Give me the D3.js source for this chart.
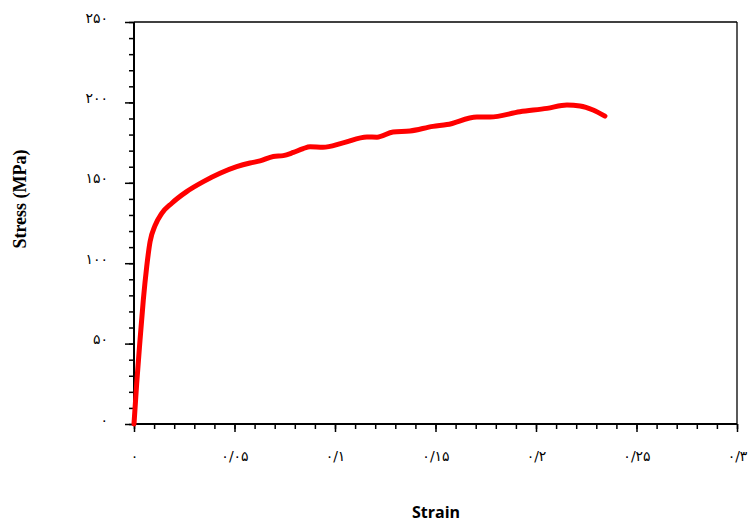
<!DOCTYPE html>
<html>
<head>
<meta charset="utf-8">
<script src="https://cdn.jsdelivr.net/npm/d3@7"></script>
<style>
  body { margin: 0; background: #fff; }
  svg { display: block; }
</style>
</head>
<body>
<svg width="749" height="523"></svg>
<script>
(function () {

	// stress-strain curve
	var strain = [0, 0.00134, 0.0030, 0.00463, 0.00632, 0.0080, 0.01045, 0.0138, 0.0188, 0.0262,
		0.0345, 0.0428, 0.0511, 0.0577, 0.0627, 0.0693, 0.0743, 0.0793, 0.0842, 0.0876,
		0.094, 0.104, 0.1159, 0.1209, 0.1289, 0.1373, 0.1488, 0.1557, 0.1706, 0.1771,
		0.192, 0.2055, 0.2154, 0.2219, 0.2284, 0.2343];
	var stress = [0, 25.3, 52.2, 77.1, 97.8, 113.4, 123.3, 131.0, 137.3, 144.5,
		150.7, 155.9, 160.0, 162.3, 163.6, 166.4, 166.9, 168.9, 171.3, 172.4,
		172.1, 174.8, 178.5, 178.4, 181.6, 182.2, 185.1, 186.2, 190.9, 190.9,
		194.2, 196.3, 198.4, 197.8, 195.3, 191.5];

	var xTicks = [0, 0.05, 0.1, 0.15, 0.2, 0.25, 0.3];
	var yTicks = [0, 50, 100, 150, 200, 250];

	var left = 134, right = 737, top = 22, bottom = 424;

	var persian = '۰۱۲۳۴۵۶۷۸۹';
	function fa(v) {
		return String(+v.toFixed(3)).replace(/[0-9]/g, function (c) {
			return persian[+c];
		}).replace('.', '/');
	}

	var x = d3.scaleLinear().domain([0, 0.3]).range([left, right]);
	var y = d3.scaleLinear().domain([0, 250]).range([bottom, top]);

	var svg = d3.select("svg");

	// minor ticks
	svg.append("g")
		.attr("transform", "translate(0," + bottom + ")")
		.call(d3.axisBottom(x).tickValues(d3.range(0, 31).map(function (d) { return d / 100; }))
			.tickSize(5).tickSizeOuter(0).tickFormat(""))
		.call(function (g) { g.select(".domain").remove(); })
		.selectAll("line").attr("stroke", "#000").attr("stroke-width", 1.5);

	svg.append("g")
		.attr("transform", "translate(" + left + ",0)")
		.call(d3.axisLeft(y).tickValues(d3.range(0, 26).map(function (d) { return d * 10; }))
			.tickSize(5).tickSizeOuter(0).tickFormat(""))
		.call(function (g) { g.select(".domain").remove(); })
		.selectAll("line").attr("stroke", "#000").attr("stroke-width", 1.5);

	// major ticks with labels
	var xAxis = svg.append("g")
		.attr("transform", "translate(0," + bottom + ")")
		.call(d3.axisBottom(x).tickValues(xTicks).tickSize(8).tickSizeOuter(0)
			.tickPadding(19).tickFormat(fa));
	xAxis.select(".domain").remove();
	xAxis.selectAll("line").attr("stroke", "#000").attr("stroke-width", 1.5);
	xAxis.selectAll("text")
		.attr("font-family", "DejaVu Sans")
		.attr("font-size", 14)
		.attr("fill", "#000");

	var yAxis = svg.append("g")
		.attr("transform", "translate(" + left + ",0)")
		.call(d3.axisLeft(y).tickValues(yTicks).tickSize(9).tickSizeOuter(0)
			.tickPadding(17).tickFormat(fa));
	yAxis.select(".domain").remove();
	yAxis.selectAll("line").attr("stroke", "#000").attr("stroke-width", 1.5);
	yAxis.selectAll("text")
		.attr("font-family", "DejaVu Sans")
		.attr("font-size", 14)
		.attr("fill", "#000")
		.attr("dy", "0.0em");

	// frame
	svg.append("line").attr("x1", left).attr("x2", right).attr("y1", top).attr("y2", top)
		.attr("stroke", "#000").attr("stroke-width", 1.3);
	svg.append("line").attr("x1", right).attr("x2", right).attr("y1", top).attr("y2", bottom)
		.attr("stroke", "#000").attr("stroke-width", 1.3);
	svg.append("line").attr("x1", left).attr("x2", left).attr("y1", top).attr("y2", bottom)
		.attr("stroke", "#000").attr("stroke-width", 2);
	svg.append("line").attr("x1", left).attr("x2", right).attr("y1", bottom).attr("y2", bottom)
		.attr("stroke", "#000").attr("stroke-width", 2);

	// curve
	var line = d3.line()
		.x(function (d, i) { return x(strain[i]); })
		.y(function (d, i) { return y(stress[i]); })
		.curve(d3.curveMonotoneX);

	svg.append("path")
		.datum(strain)
		.attr("d", line)
		.attr("fill", "none")
		.attr("stroke", "#ff0000")
		.attr("stroke-width", 5)
		.attr("stroke-linecap", "round")
		.attr("stroke-linejoin", "round");

	// titles
	svg.append("text")
		.attr("x", 436)
		.attr("y", 518)
		.attr("text-anchor", "middle")
		.attr("font-family", "Open Sans")
		.attr("font-weight", "bold")
		.attr("font-size", 16)
		.text("Strain");

	svg.append("text")
		.attr("transform", "translate(26,199) rotate(-90)")
		.attr("text-anchor", "middle")
		.attr("font-family", "Liberation Serif")
		.attr("font-weight", "bold")
		.attr("font-size", 18)
		.text("Stress (MPa)");

})();
</script>
</body>
</html>
